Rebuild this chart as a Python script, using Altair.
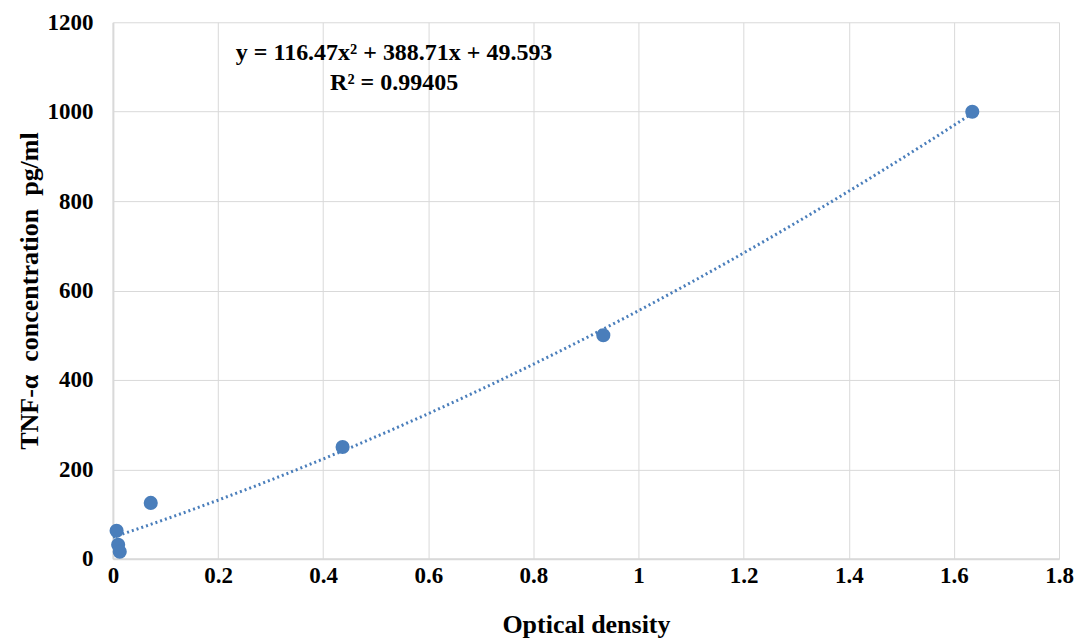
import altair as alt
import pandas as pd

od = [0.007, 0.010, 0.013, 0.072, 0.437, 0.933, 1.635]
conc = [62.5, 31.25, 15.6, 125, 250, 500, 1000]
eq_lines = ["y = 116.47x² + 388.71x + 49.593", "R² = 0.99405"]
eq_x = [0.535, 0.535]
eq_y = [1131, 1064]

df = pd.DataFrame({"od": od, "conc": conc})
eq = pd.DataFrame({"t": eq_lines, "x": eq_x, "y": eq_y})

FONT = "Liberation Serif"
BLUE = "#4a7ebb"

xs = alt.Scale(domain=[0, 1.8], nice=False)
ys = alt.Scale(domain=[0, 1200], nice=False)

xax = alt.Axis(values=[0, 0.2, 0.4, 0.6, 0.8, 1, 1.2, 1.4, 1.6, 1.8], format="~g", title="Optical density",
               labelFont=FONT, labelFontSize=23, labelFontWeight="bold", labelColor="black",
               titleFont=FONT, titleFontSize=26, titleFontWeight="bold", titleColor="black",
               grid=True, gridColor="#d9d9d9", domainColor="#d9d9d9", domainWidth=2, ticks=False,
               labelPadding=6, titlePadding=24, labelFlush=False)
yax = alt.Axis(values=[0, 200, 400, 600, 800, 1000, 1200], format="d",
               title="TNF-α\u00a0 concentration\u00a0 pg/ml",
               labelFont=FONT, labelFontSize=23, labelFontWeight="bold", labelColor="black",
               titleFont=FONT, titleFontSize=26, titleFontWeight="bold", titleColor="black",
               grid=True, gridColor="#d9d9d9", domainColor="#d9d9d9", domainWidth=2, ticks=False,
               labelPadding=20, titlePadding=4, labelFlush=False)

base = alt.Chart(df)
pts = base.mark_circle(size=200, color=BLUE, opacity=1).encode(
    x=alt.X("od:Q", scale=xs, axis=xax),
    y=alt.Y("conc:Q", scale=ys, axis=yax),
)
trend = base.transform_regression("od", "conc", method="poly", order=2, extent=[0.0, 1.635]).mark_line(
    color=BLUE, strokeWidth=3, strokeDash=[2, 3]
).encode(x=alt.X("od:Q", scale=xs), y=alt.Y("conc:Q", scale=ys))

txt = alt.Chart(eq).mark_text(font=FONT, fontSize=24, fontWeight="bold", color="black").encode(
    x=alt.X("x:Q", scale=xs), y=alt.Y("y:Q", scale=ys), text="t:N"
)

chart = alt.layer(trend, pts, txt).properties(
    width=947, height=537,
    autosize=alt.AutoSizeParams(type="none"),
    padding={"left": 105, "top": 14, "right": 20, "bottom": 80},
).configure_view(stroke=None)

chart.save("out.html", embed_options={"renderer": "svg", "actions": False})
